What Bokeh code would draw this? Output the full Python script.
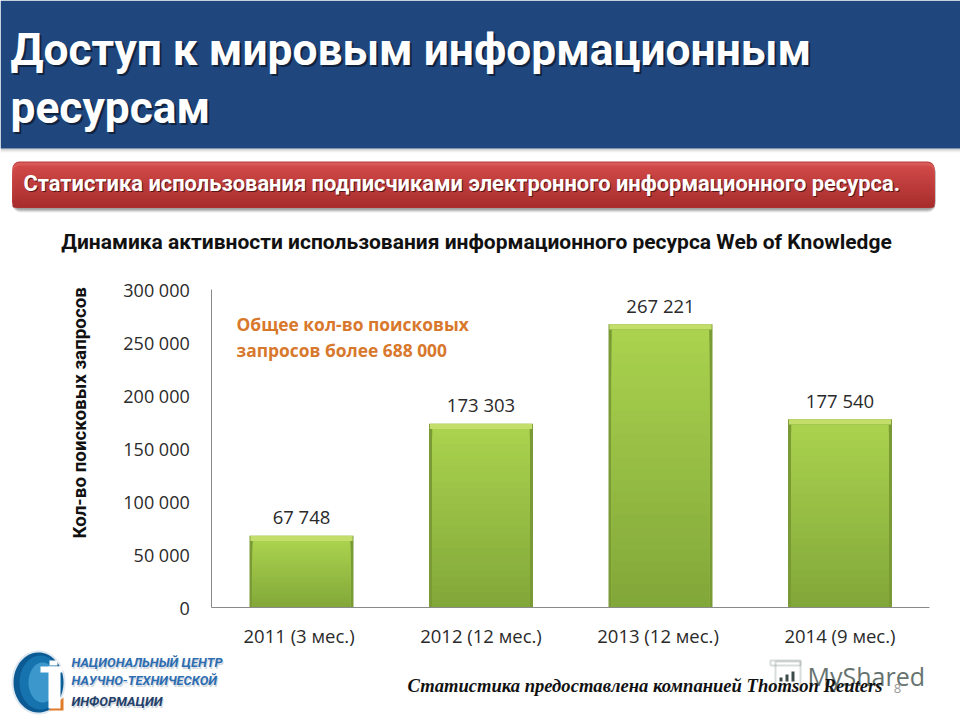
import numpy as np
from bokeh.embed import file_html
from bokeh.resources import INLINE
from bokeh.plotting import figure
from bokeh.models import BoxAnnotation, Label, PolyAnnotation, ColumnDataSource, FixedTicker, Range1d, LinearAxis

categories = ["2011 (3  мес.)", "2012 (12 мес.)", "2013  (12 мес.)", "2014 (9 мес.)"]
values = [67748, 173303, 267221, 177540]
value_labels = ["67 748", "173 303", "267 221", "177 540"]
y_ticks = [0, 50000, 100000, 150000, 200000, 250000, 300000]
y_tick_labels = ["0", "50 000", "100 000", "150 000", "200 000", "250 000", "300 000"]
y_title = "Кол-во поисковых  запросов"
title_lines = ["Доступ к мировым информационным", "ресурсам"]
banner = "Статистика использования подписчиками электронного информационного ресурса."
subtitle = "Динамика активности использования информационного ресурса Web of Knowledge"
note_lines = ["Общее кол-во поисковых", "запросов более 688 000"]
source_note = "Статистика предоставлена компанией Thomson Reuters"
logo_lines = ["НАЦИОНАЛЬНЫЙ ЦЕНТР", "НАУЧНО-ТЕХНИЧЕСКОЙ", "ИНФОРМАЦИИ"]

W, H = 960, 720
# frame covers the whole canvas; the ranges are set so the axes land where they do in the reference
AX_Y0, AX_Y1 = 607, 289      # pixel rows of 0 and 300 000
CX0, CSTEP = 301, 179.5      # pixel column of the first category and the category spacing
per_px = 300000 / (AX_Y0 - AX_Y1)
idx = list(range(len(categories)))

p = figure(width=W, height=H, output_backend="svg", toolbar_location=None,
           x_range=Range1d(-CX0 / CSTEP, (W - CX0) / CSTEP),
           y_range=Range1d(-(H - AX_Y0) * per_px, AX_Y0 * per_px),
           x_axis_type=None, y_axis_type=None,
           min_border=0, min_border_left=0, min_border_right=0, min_border_top=0, min_border_bottom=0)
p.outline_line_color = None
p.background_fill_color = "white"
p.border_fill_color = "white"
p.grid.visible = False

yaxis = LinearAxis(ticker=FixedTicker(ticks=y_ticks), fixed_location=-0.5, bounds=(0, 300000),
                   major_label_overrides=dict(zip(y_ticks, y_tick_labels)),
                   major_label_text_font="Open Sans", major_label_text_font_size="18px",
                   major_label_text_color="#2a2a2a", major_label_standoff=16,
                   major_tick_line_color=None, minor_tick_line_color=None, axis_line_color="#8a8a8a")
xaxis = LinearAxis(ticker=FixedTicker(ticks=idx), fixed_location=0, bounds=(-0.5, 3.5),
                   major_label_overrides=dict(zip(idx, categories)),
                   major_label_text_font="Open Sans", major_label_text_font_size="18.5px",
                   major_label_text_color="#2a2a2a", major_label_standoff=9,
                   major_tick_line_color=None, minor_tick_line_color=None, axis_line_color="#8a8a8a")
p.add_layout(yaxis, "left")
p.add_layout(xaxis, "below")


def box(l, t, r, b, color, alpha=1.0, radius=0, level="underlay", line=None):
    a = BoxAnnotation(left=l, right=r, top=t, bottom=b,
                      left_units="canvas", right_units="canvas", top_units="canvas", bottom_units="canvas",
                      fill_color=color, fill_alpha=alpha, line_color=line, line_width=2,
                      border_radius=radius, level=level, editable=False)
    p.add_layout(a)
    return a


def text(x, y, s, size, font="Roboto", style="normal", color="black", align="left", angle=0, baseline="middle"):
    l = Label(x=x, y=y, x_units="canvas", y_units="canvas", text=s, text_font=font,
              text_font_size=f"{size}px", text_font_style=style, text_color=color,
              text_align=align, text_baseline=baseline, angle=angle, angle_units="deg")
    p.add_layout(l)


def mix(a, b, f):
    a, b = np.array(a), np.array(b)
    return "#%02x%02x%02x" % tuple(int(z) for z in a + (b - a) * f)


# header band and its shadow
for i, a in enumerate([0.35, 0.22, 0.12, 0.06]):
    box(0, 148 + i, 960, 149 + i, "#555555", a)
box(0, 0, 960, 148, "#1f477d")
for i, line in enumerate(title_lines):
    yy = 49 + i * 58
    text(12, yy + 2, line, 44.3, style="bold", color="#10233f")
    text(10, yy, line, 44.3, style="bold", color="white")

# red banner: soft shadow, then stacked rounded layers for the vertical shading
for d, a in [(5, 0.12), (4, 0.18), (3, 0.25), (2, 0.3)]:
    box(12, 163, 935, 207 + d, "#666666", a, 8)
box(12, 161, 934, 207, "#b83a3a", 1, 7)
box(12, 162, 934, 207, "#d85a58", 1, 7)
for i in range(14):
    f = i / 13
    yy = 165 + i * 3
    box(12, yy, 934, 207, mix((0xd0, 0x48, 0x47), (0xa8, 0x2e, 0x2e), f), 1, 7)
text(24, 184, banner, 21.9, style="bold", color="#5a1515")
text(23, 183, banner, 21.9, style="bold", color="white")

# subtitle
text(476, 241, subtitle, 21, style="bold", color="#111111", align="center")

# bars built from the values: dark bevel, light top edge, graded body
EDGE_X = 0.018
EDGE_Y = 5000
BAR_W = 104 / CSTEP
N = 24
v = np.array(values, dtype=float)
p.vbar(x=idx, top=values, bottom=0, width=BAR_W, fill_color="#7a9a36", line_color=None)
p.vbar(x=idx, top=values, bottom=(v - EDGE_Y).tolist(), width=BAR_W - 0.01, fill_color="#c3de6a", line_color=None)
top_c = np.array([0xaa, 0xd2, 0x4e])
bot_c = np.array([0x83, 0xa8, 0x3a])
for k in range(N - 1, -1, -1):
    f = (k + 1) / N
    c = bot_c + (top_c - bot_c) * k / (N - 1)
    p.vbar(x=idx, top=((v - EDGE_Y) * f).tolist(), bottom=0,
           width=BAR_W - 2 * EDGE_X, fill_color="#%02x%02x%02x" % tuple(int(z) for z in c), line_color=None)

src = ColumnDataSource(dict(x=idx, y=values, t=value_labels))
p.text(x="x", y="y", text="t", source=src, text_align="center", text_baseline="middle", y_offset=-19,
       text_font={"value": "Open Sans"}, text_font_size="18.5px", text_color="#2a2a2a")

# annotations in the chart
text(79, 410, y_title, 18.8, style="bold", color="#111111", align="center", angle=90)
text(236, 323, note_lines[0], 17.4, font="Open Sans", style="bold", color="#d8782c")
text(236, 349, note_lines[1], 17.4, font="Open Sans", style="bold", color="#d8782c")

# watermark
box(775, 661, 800, 690, "white", 0, line="#7f8c8a")
box(770, 660, 800, 665, "white", 0, line="#7f8c8a")
box(779, 677, 782, 681, "#3c4a48", 1)
box(785, 674, 788, 681, "#3c4a48", 1)
box(791, 671, 794, 681, "#3c4a48", 1)
text(807, 675, "MyShared", 25, font="Open Sans", color="#66736f")
text(897, 688, "8", 13, font="Open Sans", color="#9a9a9a", align="center")
text(407, 685, source_note, 18.6, font="Liberation Serif", style="bold italic", color="#111111")

# logo
t = np.linspace(0, 2 * np.pi, 60)
for rx, ry, cx, col in [(27, 32, 38, "#dfe8f0"), (25, 30, 38, "#0b5a94"), (21, 27, 40, "#1673ad"), (14, 20, 42, "#3c98cc")]:
    p.add_layout(PolyAnnotation(xs=(cx + rx * np.cos(t)).tolist(), ys=(682 + ry * np.sin(t)).tolist(),
                                xs_units="canvas", ys_units="canvas", fill_color=col, fill_alpha=1,
                                line_color=None, editable=False))
p.add_layout(PolyAnnotation(xs=[48, 63, 63], ys=[710, 697, 710],
                            xs_units="canvas", ys_units="canvas", fill_color="#e07b2a", fill_alpha=1,
                            line_color=None, editable=False))
box(49, 660, 57, 665, "white", level="overlay")
box(40, 666, 62, 672, "white", level="overlay")
box(48, 666, 60, 708, "white", level="overlay")
for line, yy, col in zip(logo_lines, [662, 680, 701], ["#2c6cb0", "#2c6cb0", "#23406a"]):
    text(72, yy + 2, line, 12.9, style="bold italic", color="#d2d8de")
    text(71, yy, line, 12.9, style="bold italic", color=col)

open("out.html", "w").write(file_html(p, INLINE))
